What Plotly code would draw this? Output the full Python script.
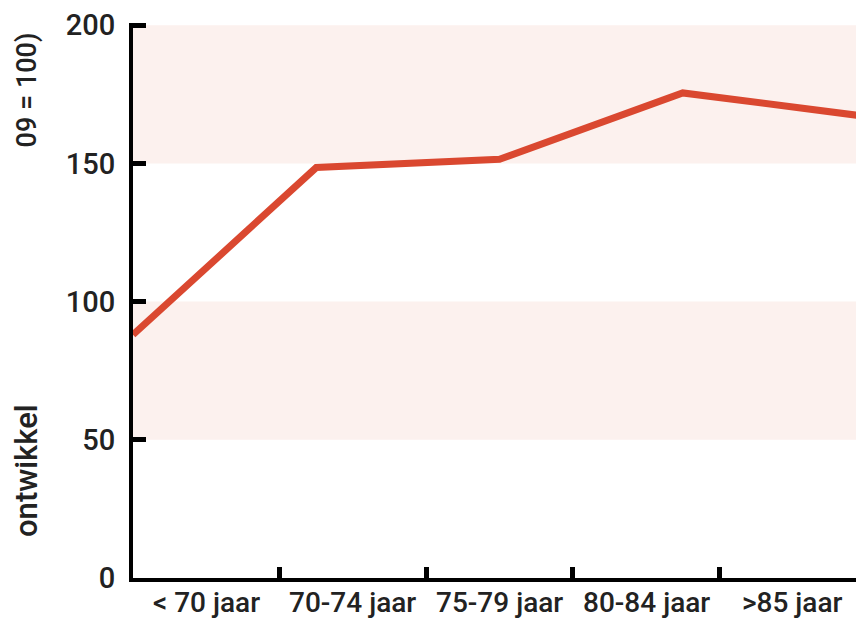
import plotly.graph_objects as go

categories = ["< 70 jaar", "70-74 jaar", "75-79 jaar", "80-84 jaar", ">85 jaar"]
values = [88, 148.5, 151.5, 175.5, 167]
y_ticks = [0, 50, 100, 150, 200]
bands = [(50, 100), (150, 200)]
title_bottom = "ontwikkel"
title_top = "09 = 100)"

FONT = "Liberation Sans Narrow, Roboto, Open Sans, sans-serif"
n = len(categories)
line_x = [i * n / (len(values) - 1) for i in range(len(values))]
label_x = [i + 0.5 for i in range(n)]
boundaries = list(range(n + 1))

# page body adds an 8px margin; size keeps page free of scrollbars
px_per_unit_y = 558 / 200
y_top = 200.8
L, W, H = 125, 848, 611
PH = round(y_top * px_per_unit_y)
T = 570 - PH
PW = W - L
unit_px = 146.6
x_max = PW / unit_px

fig = go.Figure()
fig.add_trace(go.Scatter(x=line_x, y=values, mode="lines",
                         line=dict(color="#da4830", width=7),
                         showlegend=False, hoverinfo="skip"))

for lo, hi in bands:
    fig.add_shape(type="rect", xref="paper", yref="y", x0=0, x1=1, y0=lo, y1=hi,
                  fillcolor="#fcf1ee", line=dict(width=0), layer="below")

for xv, lab in zip(label_x, categories):
    fig.add_annotation(text=lab, x=xv, xref="x", y=0, yref="paper",
                       yshift=-6, yanchor="top", xanchor="center", showarrow=False,
                       font=dict(size=28, family=FONT, color="#222222", weight=500))

fig.update_layout(
    width=W, height=H,
    margin=dict(l=L, r=0, t=T, b=H - T - PH),
    paper_bgcolor="white", plot_bgcolor="white",
    font=dict(family=FONT, color="#222222"),
    xaxis=dict(range=[0, x_max], tickvals=boundaries, ticktext=[""] * len(boundaries),
               ticks="inside", ticklen=11, tickwidth=5, tickcolor="black",
               showline=True, linewidth=4, linecolor="black",
               showgrid=False, zeroline=False),
    yaxis=dict(range=[0, y_top], tickvals=y_ticks, ticks="inside", ticklen=13,
               tickwidth=5, tickcolor="black", showline=True, linewidth=4,
               linecolor="black", showgrid=False, zeroline=False,
               ticklabelstandoff=8, ticklabeloverflow="allow",
               tickfont=dict(size=29, family=FONT, color="#222222", weight=500)),
)

tx = (19 - L) / PW
fig.add_annotation(text=title_bottom, textangle=-90, xref="paper", yref="paper",
                   x=tx, y=(578 - 470) / PH, showarrow=False,
                   xanchor="center", yanchor="middle",
                   font=dict(size=31, family=FONT, color="#222222", weight=500))
fig.add_annotation(text=title_top, textangle=-90, xref="paper", yref="paper",
                   x=tx, y=(578 - 86) / PH, showarrow=False,
                   xanchor="center", yanchor="middle",
                   font=dict(size=27, family=FONT, color="#222222", weight=500))

fig.write_html("out.html")
